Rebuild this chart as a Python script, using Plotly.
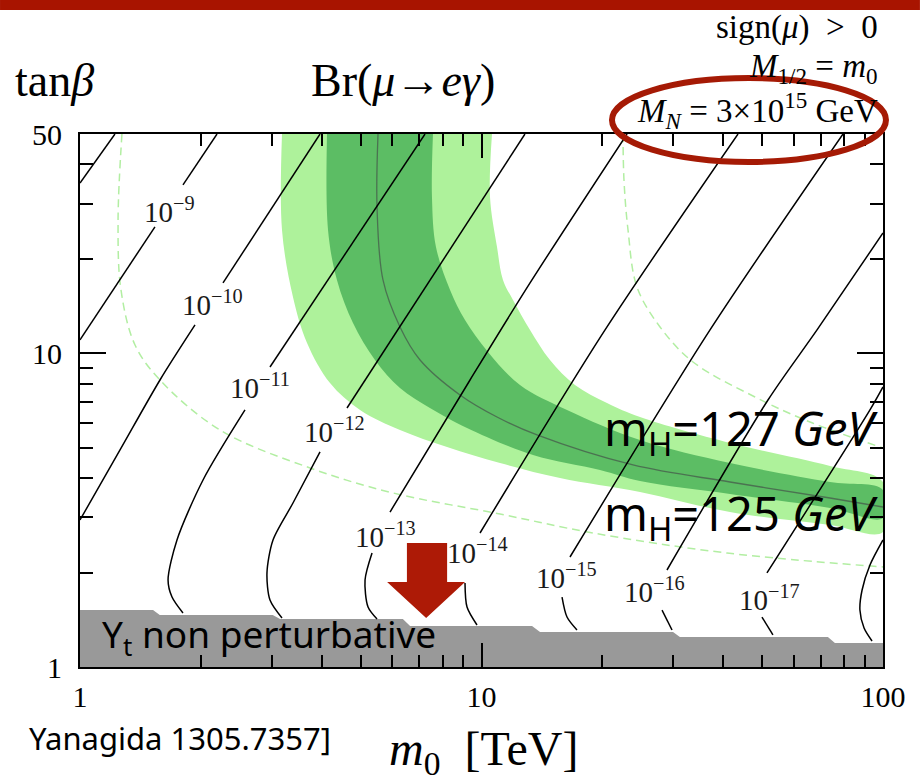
import numpy as np
import plotly.graph_objects as go

# ---------------- data (m0 in TeV, tan(beta)) ----------------
# m_H band boundaries
light_lo_m = [3.185, 3.185, 3.392, 3.677, 4.195, 4.983, 6.266, 8.207, 11.12, 15.69, 24.82, 41.58, 73.8, 100]
light_lo_t = [50, 24.72, 15.12, 10.79, 8.04, 6.597, 5.694, 5.026, 4.47, 4.004, 3.613, 3.119, 2.836, 2.694]
dark_lo_m = [4.123, 4.147, 4.365, 4.786, 5.429, 6.266, 7.44, 9.203, 13.44, 19.73, 24.82, 41.58, 73.8, 100]
dark_lo_t = [50, 24.72, 17.13, 12.49, 9.52, 7.75, 6.693, 5.78, 4.741, 4.246, 3.916, 3.561, 3.213, 2.985]
center_m = [5.524, 5.493, 5.684, 6.266, 7.03, 8.84, 10.93, 13.75, 23.84, 41.58, 73.8, 100]
center_t = [50, 29.27, 17.13, 12.13, 9.52, 7.364, 6.264, 5.491, 4.405, 3.888, 3.457, 3.236]
dark_hi_m = [7.57, 7.527, 7.702, 8.35, 9.097, 10.38, 12.47, 16.33, 24.82, 41.58, 73.8, 100]
dark_hi_t = [50, 31.5, 21.83, 15.92, 12.77, 10.10, 7.925, 6.597, 5.292, 4.47, 3.888, 3.666]
light_hi_m = [10.62, 10.50, 10.93, 11.31, 11.98, 13.21, 14.81, 17.09, 20.54, 24.82, 41.58, 73.8, 100]
light_hi_t = [50, 31.5, 21.83, 17.13, 14.79, 11.87, 9.52, 7.925, 6.944, 6.264, 5.178, 4.372, 3.888]

# dashed outer m_H contours
dash_lo_m = [1.272, 1.244, 1.265, 1.371, 1.582, 2.232, 3.741, 6.021, 11.12, 18.95, 40.88, 100]
dash_lo_t = [50, 26.6, 15.92, 10.63, 8.22, 5.694, 4.309, 3.587, 3.074, 2.674, 2.308, 2.084]
dash_hi_m = [22.51, 22.64, 23.17, 24.39, 27.84, 33.63, 47.99, 65.8, 100]
dash_hi_t = [50, 35.68, 24.72, 16.27, 12.13, 9.382, 7.256, 6.039, 4.990]

# Br(mu -> e gamma) contours (None = gap for the label)
br8_m = [1.222, 1.0]
br8_t = [50, 34.9]
br9_m = [2.194, 1.805, None, 1.537, 1.0]
br9_t = [50, 34.4, None, 25.3, 11.03]
br10_m = [3.961, 2.271, None, 1.934, 1.582, 1.258, 1.0]
br10_t = [50, 16.76, None, 12.31, 8.22, 4.918, 2.942]
br11_m = [7.233, 2.973, None, 2.576, 2.025, 1.744, 1.657, 1.695, 1.805]
br11_t = [50, 9.04, None, 6.597, 3.946, 2.541, 1.894, 1.671, 1.486]
br12_m = [12.83, 4.624, None, 3.961, 3.392, 3.025, 2.922, 2.973, 3.185]
br12_t = [50, 6.693, None, 4.847, 3.332, 2.541, 1.994, 1.635, 1.433]
br13_m = [23.04, 13.21, 9.363, 5.918, None, 5.338, 5.128, 5.217, 5.493]
br13_t = [50, 16.76, 8.22, 3.119, None, 2.308, 1.894, 1.553, 1.422]
br14_m = [43.54, 20.31, 9.915, None, 9.097, 9.203, 9.745]
br14_t = [50, 11.87, 2.674, None, 1.853, 1.553, 1.361]
br15_m = [79.5, 37.08, 16.61, None, 15.87, 16.33, 17.29]
br15_t = [50, 11.87, 2.242, None, 1.671, 1.443, 1.312]
br16_m = [100, 68.5, 51.7, 28.97, None, 28.16, 29.82]
br16_t = [24.18, 11.87, 7.097, 2.038, None, 1.519, 1.312]
br17_m = [100, 92.8, 51.4, None, 49.95, 53.2]
br17_t = [7.809, 6.597, 1.994, None, 1.443, 1.265]
br18_m = [100, 92.8, 88.7, 87.6, 89.7, 93.9]
br18_t = [2.541, 2.114, 1.760, 1.519, 1.331, 1.210]

label_text = ["10<sup>−9</sup>", "10<sup>−10</sup>", "10<sup>−11</sup>", "10<sup>−12</sup>",
              "10<sup>−13</sup>", "10<sup>−14</sup>", "10<sup>−15</sup>", "10<sup>−16</sup>",
              "10<sup>−17</sup>"]
label_m = [1.675, 2.132, 2.808, 4.316, 5.750, 9.80, 16.28, 27.0, 52.3]
label_t = [28.6, 14.46, 7.866, 5.694, 2.635, 2.343, 1.95, 1.76, 1.66]

# Y_t non-perturbative region (upper edge)
yt_m = [1, 1.52, 1.58, 3.02, 3.15, 6.37, 6.64, 13.36, 13.99, 30.0, 31.2, 72.9, 75.9, 100, 100, 1]
yt_t = [1.52, 1.52, 1.465, 1.465, 1.422, 1.422, 1.351, 1.351, 1.293, 1.293, 1.246, 1.246, 1.193, 1.193, 1, 1]

# red arrow
arrow_m = [6.52, 8.21, 8.21, 9.10, 7.28, 5.82, 6.52, 6.52]
arrow_t = [2.485, 2.485, 1.866, 1.866, 1.433, 1.866, 1.866, 2.485]

x_major = [1, 10, 100]
x_minor = [2, 3, 4, 5, 6, 7, 8, 9, 20, 30, 40, 50, 60, 70, 80, 90]
y_major = [1, 10, 50]
y_minor = [2, 3, 4, 5, 6, 7, 8, 9, 20, 30, 40]

# ---------------- figure ----------------
SERIF = "Liberation Serif"
COMIC = "Noto Sans"
LIGHT = "#aef29b"
DARK = "#5cbd64"

fig = go.Figure()

fig.add_trace(go.Scatter(x=light_lo_m + light_hi_m[::-1], y=light_lo_t + light_hi_t[::-1],
                         fill="toself", fillcolor=LIGHT, mode="lines",
                         line=dict(width=0, shape="spline", color=LIGHT), hoverinfo="skip"))
fig.add_trace(go.Scatter(x=dark_lo_m + dark_hi_m[::-1], y=dark_lo_t + dark_hi_t[::-1],
                         fill="toself", fillcolor=DARK, mode="lines",
                         line=dict(width=0, shape="spline", color=DARK), hoverinfo="skip"))
fig.add_trace(go.Scatter(x=center_m, y=center_t, mode="lines",
                         line=dict(width=1.3, shape="spline", color="rgba(70,90,75,0.75)"),
                         hoverinfo="skip"))
for xm, yt in [(dash_lo_m, dash_lo_t), (dash_hi_m, dash_hi_t)]:
    fig.add_trace(go.Scatter(x=xm, y=yt, mode="lines",
                             line=dict(width=1.5, shape="spline", color="#b2eea2", dash="8px,5px"),
                             hoverinfo="skip"))

fig.add_trace(go.Scatter(x=yt_m, y=yt_t, fill="toself", fillcolor="#999999", mode="lines",
                         line=dict(width=0, color="#999999"), hoverinfo="skip"))

for xm, yt in [(br8_m, br8_t), (br9_m, br9_t), (br10_m, br10_t), (br11_m, br11_t),
               (br12_m, br12_t), (br13_m, br13_t), (br14_m, br14_t), (br15_m, br15_t),
               (br16_m, br16_t), (br17_m, br17_t), (br18_m, br18_t)]:
    fig.add_trace(go.Scatter(x=xm, y=yt, mode="lines", connectgaps=False,
                             line=dict(width=1.5, color="black", shape="spline", smoothing=0.8),
                             hoverinfo="skip"))

fig.add_trace(go.Scatter(x=arrow_m, y=arrow_t, fill="toself", fillcolor="#ad1a06", mode="lines",
                         line=dict(width=0, color="#ad1a06"), hoverinfo="skip"))

annotations = []
for txt, xm, yt in zip(label_text, label_m, label_t):
    annotations.append(dict(x=np.log10(xm), y=np.log10(yt), xref="x", yref="y", text=txt,
                            showarrow=False, font=dict(family=SERIF, size=29, color="#1a1a1a")))


def ptxt(text, x, y, size, family=SERIF, xanchor="center", color="black"):
    annotations.append(dict(x=x, y=y, xref="paper", yref="paper", text=text, showarrow=False,
                            xanchor=xanchor, yanchor="middle",
                            font=dict(family=family, size=size, color=color)))


ptxt("tan<i>β</i>", -0.0834, 1.101, 46, xanchor="left")
ptxt("Br(<i>μ</i>→<i>eγ</i>)", 0.402, 1.101, 46)
ptxt("sign(<i>μ</i>)  >  0", 0.9963, 1.199, 33, xanchor="right")
ptxt("<i>M</i><sub>1/2</sub> = <i>m</i><sub>0</sub>", 0.9963, 1.1238, 33, xanchor="right")
ptxt("<i>M<sub>N</sub></i> = 3×10<sup>15</sup> GeV", 0.9963, 1.045, 33, xanchor="right")
ptxt("<i>m</i><sub>0</sub>  [TeV]", 0.502, -0.1595, 48)
ptxt("Yanagida 1305.7357]", 0.315, -0.134, 31, family=COMIC, xanchor="right")
ptxt("m<sub>H</sub>=127 <i>GeV</i>", 0.9963, 0.442, 47, family=COMIC, xanchor="right")
ptxt("m<sub>H</sub>=125 <i>GeV</i>", 0.9963, 0.283, 47, family=COMIC, xanchor="right")
ptxt("Y<sub>t</sub> non perturbative", 0.0249, 0.058, 37, family=COMIC, xanchor="left")

shapes = [
    dict(type="rect", xref="paper", yref="paper", x0=-0.0996, x1=1.046, y0=1.2327, y1=1.2514,
         fillcolor="#a81400", line=dict(width=0), layer="above"),
    dict(type="circle", xref="paper", yref="paper", x0=0.6625, x1=1.0037, y0=0.9475, y1=1.105,
         line=dict(color="#a51a05", width=6), fillcolor="rgba(0,0,0,0)", layer="above"),
]

axis_common = dict(type="log", showgrid=False, zeroline=False, showline=True, linewidth=2,
                   linecolor="black", mirror="allticks", ticks="inside", tickwidth=1.5,
                   tickcolor="black", tickfont=dict(family=SERIF, size=30, color="black"))

fig.update_layout(
    width=920, height=784, autosize=False,
    margin=dict(l=80, r=37, t=134, b=117),
    paper_bgcolor="white", plot_bgcolor="white",
    showlegend=False,
    xaxis=dict(range=[0, 2], tickmode="array", tickvals=x_major,
               ticktext=[str(v) for v in x_major], ticklen=24, ticklabelstandoff=2,
               minor=dict(tickmode="array", tickvals=x_minor, ticks="inside", ticklen=12,
                          tickwidth=1.5, tickcolor="black", showgrid=False),
               **axis_common),
    yaxis=dict(range=[0, np.log10(50)], tickmode="array", tickvals=y_major,
               ticktext=[str(v) for v in y_major], ticklen=26, ticklabelstandoff=10,
               minor=dict(tickmode="array", tickvals=y_minor, ticks="inside", ticklen=13,
                          tickwidth=1.5, tickcolor="black", showgrid=False),
               **axis_common),
    annotations=annotations,
    shapes=shapes,
)

fig.write_html("out.html", config={"displayModeBar": False},
               post_script="document.body.style.margin='0px';")
